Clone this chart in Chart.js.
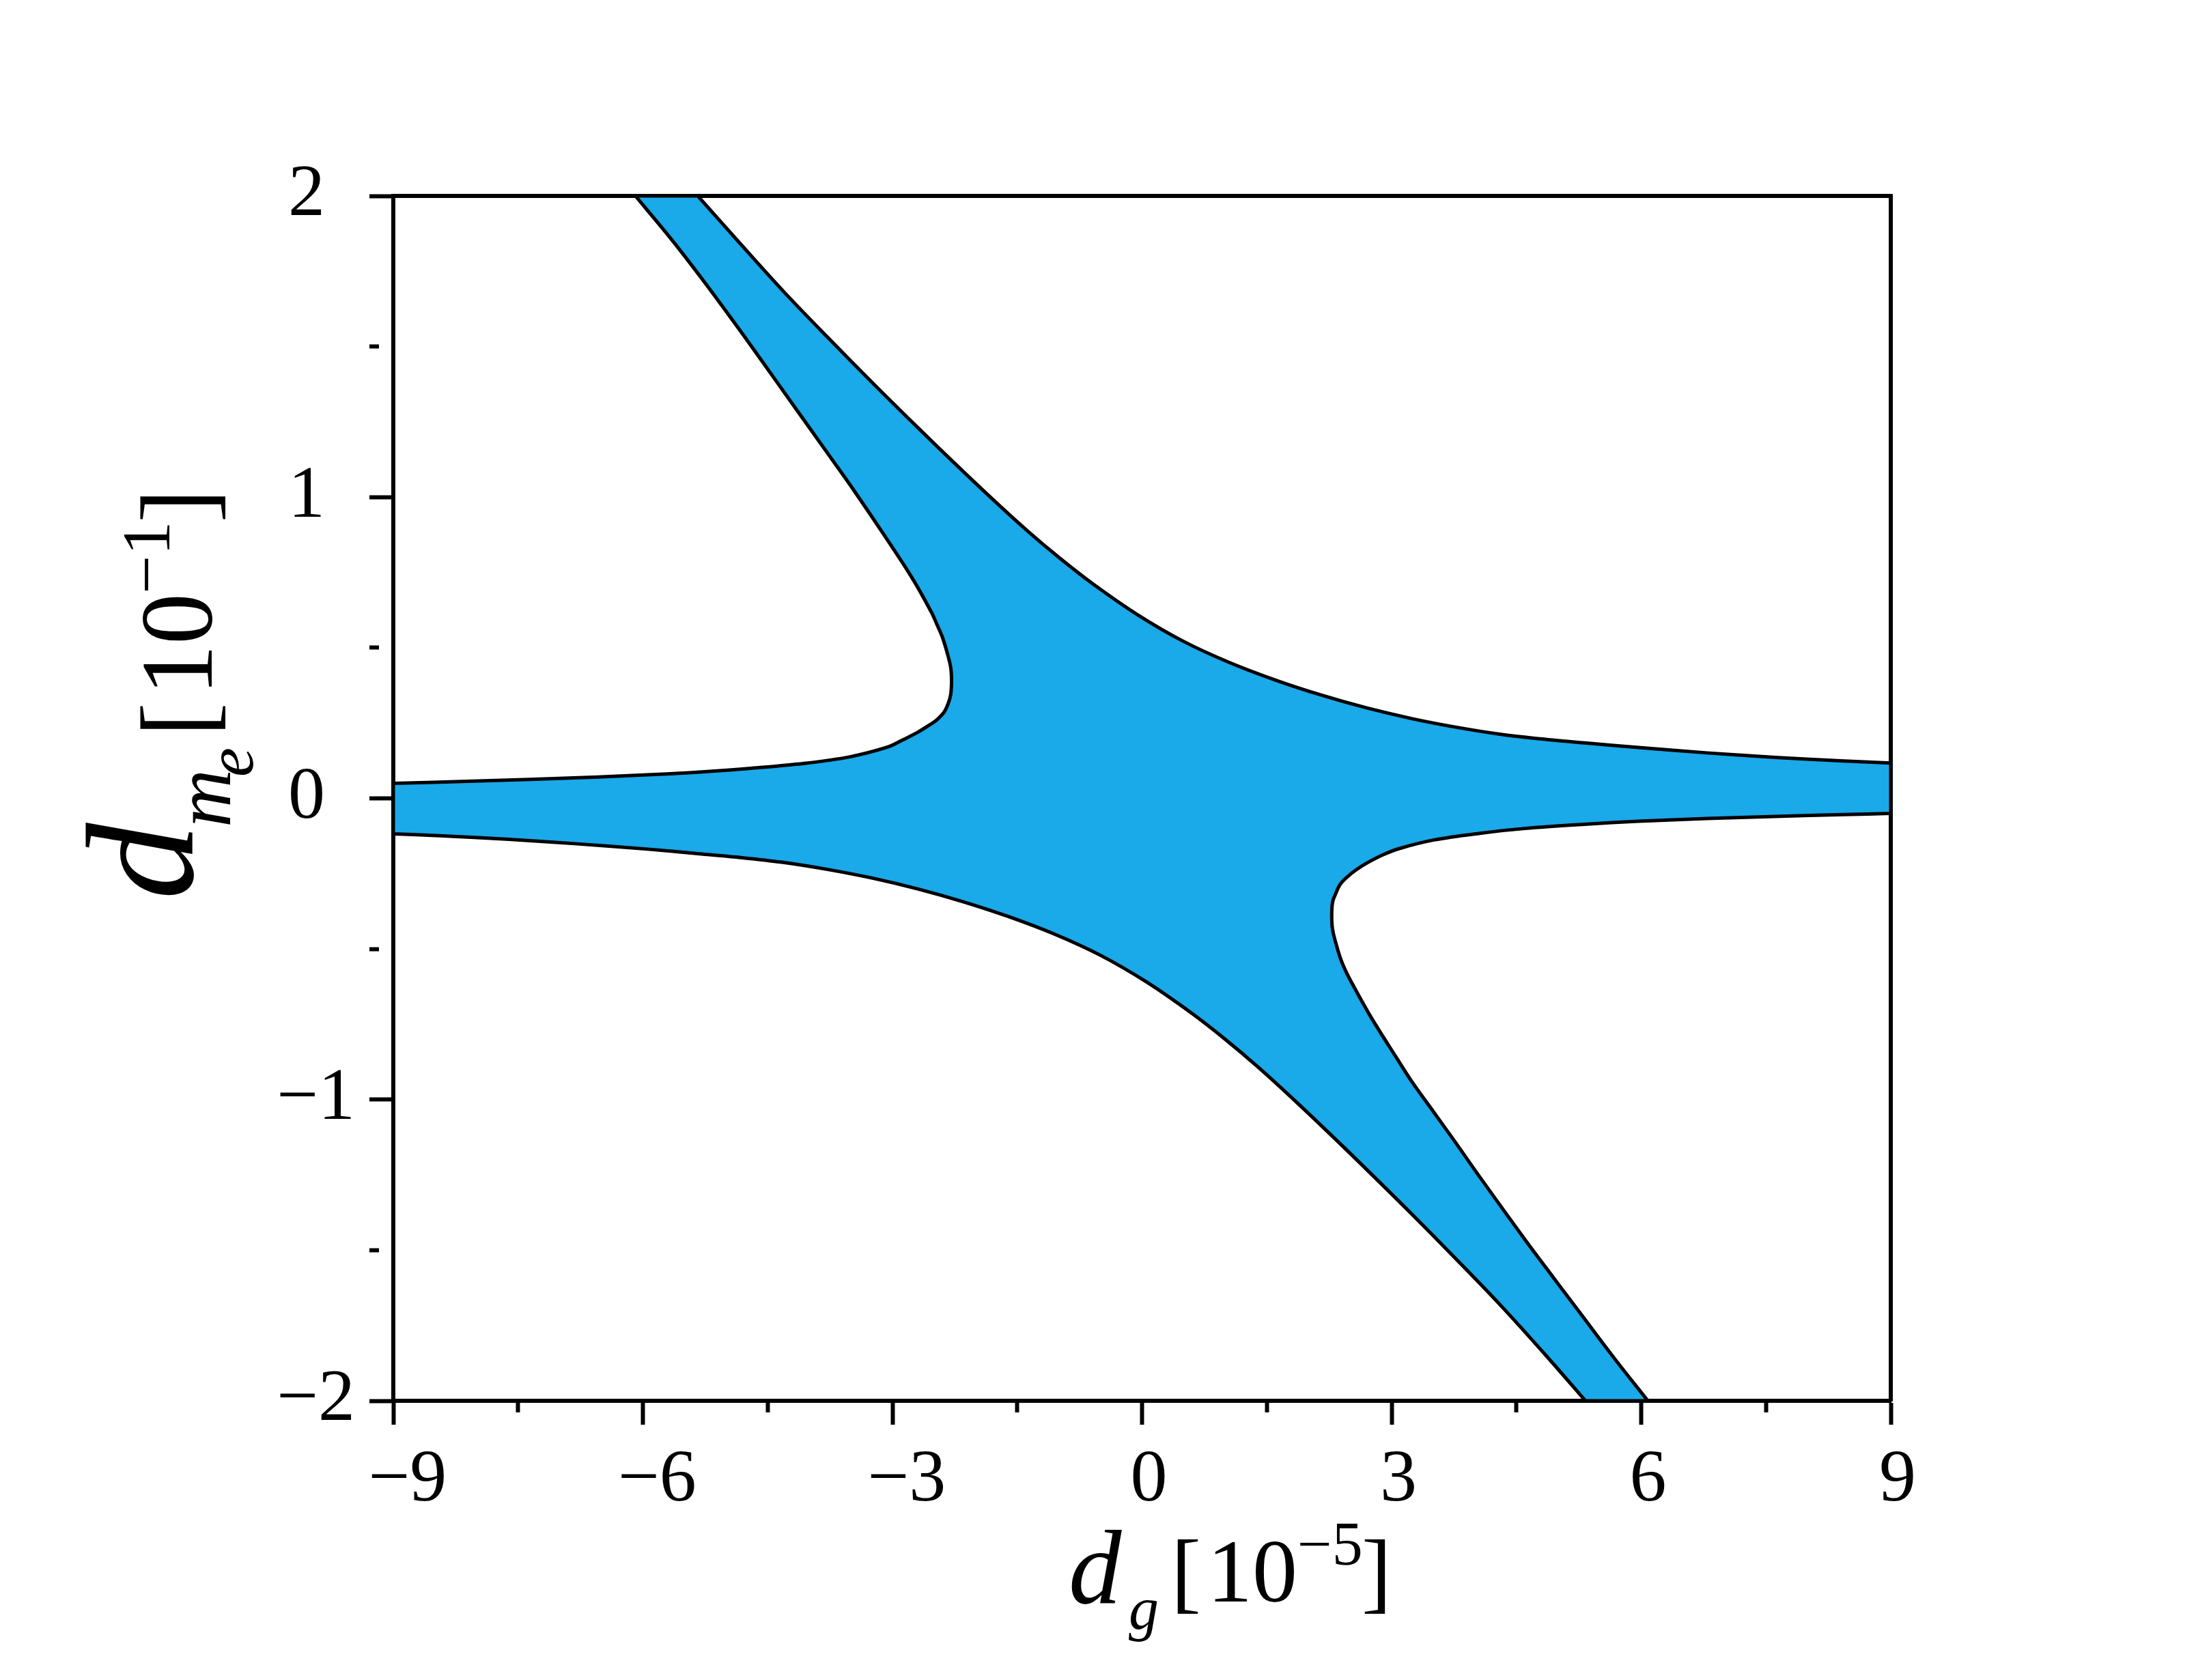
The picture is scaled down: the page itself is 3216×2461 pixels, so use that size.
<!DOCTYPE html>
<html>
<head>
<meta charset="utf-8">
<script src="https://cdn.jsdelivr.net/npm/chart.js@4.4.0/dist/chart.umd.min.js"></script>
<style>
  html, body { margin:0; padding:0; background:#fff; }
  canvas { display:block; }
</style>
</head>
<body>
<canvas id="c" width="3216" height="2461"></canvas>
<script>
// values: x in units of 1e-5, y in units of 1e-1

// upper boundary of the band, top edge -> right edge
const upperX = [-5.34, -4.86, -4.31, -3.77, -3.22, -2.67, -2.24, -1.80, -1.39, -1.00, -0.60, -0.05, 0.50, 1.05, 1.60, 2.14, 2.69, 3.24, 3.78, 4.33, 4.88, 5.32, 5.97, 6.79, 7.61, 8.44, 9.00]
const upperY = [2.00, 1.851, 1.683, 1.528, 1.374, 1.224, 1.109, 0.994, 0.891, 0.800, 0.714, 0.609, 0.521, 0.451, 0.393, 0.344, 0.301, 0.265, 0.236, 0.212, 0.195, 0.184, 0.169, 0.151, 0.136, 0.124, 0.117]

// left lobe (white, top-left), left edge -> nose -> top edge
const leftLobeX = [-9.00, -8.18, -7.36, -6.54, -5.72, -5.17, -4.73, -4.06, -3.51, -3.06, -2.89, -2.70, -2.57, -2.47, -2.38, -2.33, -2.30, -2.29, -2.30, -2.34, -2.40, -2.47, -2.53, -2.76, -3.08, -3.47, -3.76, -4.17, -4.58, -4.855, -5.26, -5.66, -6.09]
const leftLobeY = [0.050, 0.056, 0.063, 0.071, 0.081, 0.090, 0.099, 0.116, 0.138, 0.170, 0.192, 0.219, 0.241, 0.260, 0.286, 0.315, 0.345, 0.390, 0.435, 0.481, 0.535, 0.580, 0.617, 0.730, 0.866, 1.025, 1.138, 1.297, 1.456, 1.562, 1.714, 1.857, 2.00]

// right lobe (white, bottom-right), right edge -> nose -> bottom edge
const rightLobeX = [9.00, 8.44, 7.61, 6.79, 5.97, 5.32, 4.60, 4.06, 3.51, 3.10, 2.89, 2.70, 2.57, 2.47, 2.38, 2.33, 2.29, 2.28, 2.29, 2.33, 2.39, 2.46, 2.53, 2.76, 3.07, 3.24, 3.51, 3.78, 4.07, 4.59, 4.86, 5.27, 5.68, 6.08]
const rightLobeY = [-0.050, -0.054, -0.060, -0.067, -0.076, -0.086, -0.100, -0.116, -0.138, -0.166, -0.188, -0.215, -0.238, -0.260, -0.286, -0.315, -0.345, -0.392, -0.435, -0.481, -0.535, -0.580, -0.617, -0.730, -0.866, -0.939, -1.043, -1.147, -1.261, -1.46, -1.56, -1.71, -1.86, -2.00]

// lower boundary of the band, left edge -> bottom edge
const lowerX = [-9.00, -8.44, -7.61, -6.79, -5.97, -5.32, -4.88, -4.33, -3.78, -3.24, -2.69, -2.14, -1.60, -1.05, -0.50, 0.05, 0.60, 1.00, 1.39, 1.80, 2.24, 2.67, 3.22, 3.77, 4.31, 4.86, 5.33]
const lowerY = [-0.118, -0.124, -0.136, -0.151, -0.168, -0.184, -0.195, -0.212, -0.236, -0.265, -0.301, -0.344, -0.393, -0.451, -0.521, -0.609, -0.714, -0.800, -0.891, -0.994, -1.109, -1.224, -1.374, -1.528, -1.683, -1.851, -2.00]

const xMajor = [-9, -6, -3, 0, 3, 6, 9]
const yMajor = [-2, -1, 0, 1, 2]

// end points doubled so the spline keeps sharp corners where a curve meets the frame
const curve = (xs, ys, rev) => {
  const p = xs.map((x, i) => ({x: x, y: ys[i]}))
  if (rev) p.reverse()
  return [p[0], ...p, p[p.length - 1]]
}

// walk round the blue region: left lobe, upper edge, right lobe, lower edge back
const outline = [
  ...curve(leftLobeX, leftLobeY),
  ...curve(upperX, upperY),
  ...curve(rightLobeX, rightLobeY),
  ...curve(lowerX, lowerY, true),
]
outline.push({...outline[0]})

// negative labels sit a little right of the tick in the original
const label = (v, pad) => v < 0 ? pad + '\u2212' + Math.abs(v) : String(v)
const serif = '"Liberation Serif", "Times New Roman", serif'

const xTitle = [
  {t:'d', f:'italic 155px ' + serif, at:0, dy:0},
  {t:'g', f:'italic 88px ' + serif, at:88, dy:38},
  {t:'[', f:'132px ' + serif, at:150, dy:-2},
  {t:'10', f:'132px ' + serif, at:203, dy:-2},
  {t:'\u22125', f:'90px ' + serif, at:335, dy:-56},
  {t:']', f:'132px ' + serif, at:429, dy:-2},
]
const yTitle = [
  {t:'d', f:'italic 225px ' + serif, at:0, dy:0},
  {t:'m', f:'italic 118px ' + serif, at:106, dy:55},
  {t:'e', f:'italic 97px ' + serif, at:180, dy:88},
  {t:'[', f:'150px ' + serif, at:239, dy:28},
  {t:'10', f:'150px ' + serif, at:299, dy:28},
  {t:'\u22121', f:'100px ' + serif, at:448, dy:-34},
  {t:']', f:'150px ' + serif, at:552, dy:28},
]

const runs = (ctx, list) => list.forEach(r => {
  ctx.font = r.f
  ctx.fillText(r.t, r.at, r.dy)
})

const titles = {
  id: 'titles',
  afterDraw(chart) {
    const {ctx, chartArea: a} = chart
    ctx.save()
    ctx.fillStyle = '#000'
    ctx.textBaseline = 'alphabetic'
    ctx.textAlign = 'left'
    ctx.save()
    ctx.translate(a.left + 989, a.bottom + 296)
    runs(ctx, xTitle)
    ctx.restore()
    ctx.save()
    ctx.translate(a.left - 294, a.top + 1031)
    ctx.rotate(-Math.PI / 2)
    runs(ctx, yTitle)
    ctx.restore()
    ctx.restore()
  }
}

const frame = {display: true, color: '#000', width: 6}

const tickGrid = major => ({
  drawOnChartArea: false,
  tickLength: 35,
  tickWidth: 6,
  tickColor: '#000',
  tickBorderDash: c => major.includes(c.tick && c.tick.value) ? [] : [14, 200],
})

new Chart(document.getElementById('c'), {
  type: 'scatter',
  data: {
    datasets: [{
      data: outline,
      showLine: true,
      fill: 'shape',
      backgroundColor: '#1aa9e9',
      borderColor: '#000',
      borderWidth: 5,
      pointRadius: 0,
      tension: 0.35,
    }]
  },
  options: {
    responsive: false,
    devicePixelRatio: 1,
    animation: false,
    layout: { padding: {left: 0, right: 447, top: 287, bottom: 0} },
    plugins: { legend: {display: false}, tooltip: {enabled: false} },
    scales: {
      x: {
        type: 'linear', position: 'bottom', min: -9, max: 9, z: 1,
        afterFit: s => { s.height = 409 },
        border: frame,
        grid: tickGrid(xMajor),
        ticks: {
          stepSize: 1.5, autoSkip: false, maxRotation: 0, padding: 18, labelOffset: 10,
          color: '#000', font: {family: serif, size: 108},
          callback: v => xMajor.includes(v) ? label(v, '\u2009') : '',
        },
      },
      y: {
        type: 'linear', position: 'left', min: -2, max: 2, z: 1,
        afterFit: s => { s.width = 576 },
        border: frame,
        grid: tickGrid(yMajor),
        ticks: {
          stepSize: 0.5, autoSkip: false, padding: 21, crossAlign: 'center',
          color: '#000', font: {family: serif, size: 108},
          callback: v => yMajor.includes(v) ? label(v, ' ') : '',
        },
      },
      x2: {
        type: 'linear', position: 'top', min: -9, max: 9, z: 1,
        afterFit: s => { s.height = 0 },
        border: frame, grid: {display: false}, ticks: {display: false},
      },
      y2: {
        type: 'linear', position: 'right', min: -2, max: 2, z: 1,
        afterFit: s => { s.width = 0 },
        border: frame, grid: {display: false}, ticks: {display: false},
      },
    },
  },
  plugins: [titles],
})
</script>
</body>
</html>
